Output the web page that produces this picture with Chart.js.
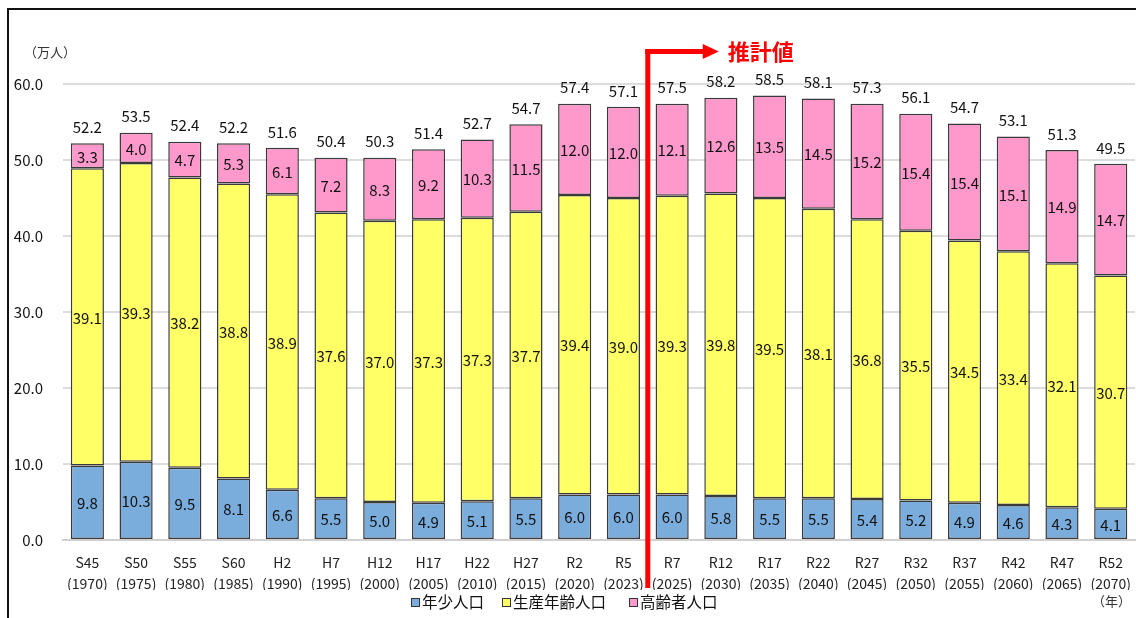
<!DOCTYPE html>
<html>
<head>
<meta charset="utf-8">
<script src="https://cdn.jsdelivr.net/npm/chart.js@4"></script>
<style>
  body { margin: 0; background: #fff; }
  #wrap { position: relative; width: 1136px; height: 618px; }
  #frame { position: absolute; left: 7px; top: 8px; right: 0; bottom: 0;
           border-top: 2px solid #111; border-left: 2px solid #111; pointer-events: none; }
  .note { position: absolute; font-family: "Noto Sans CJK JP"; font-size: 13px; color: #333; }
  .leg { position: absolute; top: 590px; font-family: "Noto Sans CJK JP"; font-size: 15.5px;
         color: #111; white-space: nowrap; line-height: 22px; }
  .leg i { display: inline-block; width: 7px; height: 7px; border: 1px solid #333;
           margin-right: 2px; vertical-align: 1px; }
</style>
</head>
<body>
<div id="wrap">
  <canvas id="pop" width="1136" height="618"></canvas>
  <div id="frame"></div>
  <div class="note" style="left:24px; top:42px;">（万人）</div>
  <div class="note" style="left:1092px; top:591px;">（年）</div>
  <div id="legend"></div>
</div>
<script>
const years = [
  ['S45', '(1970)'], ['S50', '(1975)'], ['S55', '(1980)'], ['S60', '(1985)'],
  ['H2', '(1990)'], ['H7', '(1995)'], ['H12', '(2000)'], ['H17', '(2005)'],
  ['H22', '(2010)'], ['H27', '(2015)'], ['R2', '(2020)'], ['R5', '(2023)'],
  ['R7', '(2025)'], ['R12', '(2030)'], ['R17', '(2035)'], ['R22', '(2040)'],
  ['R27', '(2045)'], ['R32', '(2050)'], ['R37', '(2055)'], ['R42', '(2060)'],
  ['R47', '(2065)'], ['R52', '(2070)']
];
const young = [9.8, 10.3, 9.5, 8.1, 6.6, 5.5, 5.0, 4.9, 5.1, 5.5, 6.0, 6.0,
               6.0, 5.8, 5.5, 5.5, 5.4, 5.2, 4.9, 4.6, 4.3, 4.1];
const working = [39.1, 39.3, 38.2, 38.8, 38.9, 37.6, 37.0, 37.3, 37.3, 37.7, 39.4, 39.0,
                 39.3, 39.8, 39.5, 38.1, 36.8, 35.5, 34.5, 33.4, 32.1, 30.7];
const elderly = [3.3, 4.0, 4.7, 5.3, 6.1, 7.2, 8.3, 9.2, 10.3, 11.5, 12.0, 12.0,
                 12.1, 12.6, 13.5, 14.5, 15.2, 15.4, 15.4, 15.1, 14.9, 14.7];
const totals = [52.2, 53.5, 52.4, 52.2, 51.6, 50.4, 50.3, 51.4, 52.7, 54.7, 57.4, 57.1,
                57.5, 58.2, 58.5, 58.1, 57.3, 56.1, 54.7, 53.1, 51.3, 49.5];
const seriesNames = ['年少人口', '生産年齢人口', '高齢者人口'];
const seriesColors = ['#7aacdc', '#ffff66', '#ff99cc'];
const lastActual = 11; // R5 (2023), estimates start after it

const font = '"Noto Sans CJK JP"';

// numbers inside each segment and totals on top
const segLabels = {
  id: 'segLabels',
  afterDatasetsDraw(chart) {
    const ctx = chart.ctx;
    ctx.save();
    ctx.font = '15px ' + font;
    ctx.fillStyle = '#111';
    ctx.textAlign = 'center';
    ctx.textBaseline = 'middle';
    chart.data.datasets.forEach((ds, i) => {
      chart.getDatasetMeta(i).data.forEach((bar, j) => {
        ctx.fillText(ds.data[j].toFixed(1), bar.x, (bar.y + bar.base) / 2 + 1);
      });
    });
    chart.getDatasetMeta(2).data.forEach((bar, j) => {
      ctx.fillText(totals[j].toFixed(1), bar.x, bar.y - 16);
    });
    ctx.restore();
  }
};

// red "推計値" arrow between actual and estimated values
const estArrow = {
  id: 'estArrow',
  afterDraw(chart) {
    const ctx = chart.ctx;
    const x = chart.scales.x;
    const xp = (x.getPixelForValue(lastActual) + x.getPixelForValue(lastActual + 1)) / 2;
    const yTop = 49;
    ctx.save();
    ctx.fillStyle = '#ff0000';
    ctx.fillRect(xp - 2.5, yTop, 5, 588 - yTop);
    ctx.fillRect(xp - 2.5, yTop, 58, 5);
    ctx.beginPath();
    ctx.moveTo(xp + 55, yTop - 5);
    ctx.lineTo(xp + 71, yTop + 2.5);
    ctx.lineTo(xp + 55, yTop + 10);
    ctx.closePath();
    ctx.fill();
    ctx.font = 'bold 22px ' + font;
    ctx.textBaseline = 'middle';
    ctx.fillText('推計値', xp + 80, yTop + 3);
    ctx.restore();
  }
};

const bar = (i, data) => ({
  label: seriesNames[i],
  data: data,
  backgroundColor: seriesColors[i],
  borderColor: '#3a3a3a',
  borderWidth: 1.5,
  borderSkipped: false,
  barPercentage: 0.68,
  categoryPercentage: 1
});

new Chart(document.getElementById('pop'), {
  type: 'bar',
  data: {
    labels: years,
    datasets: [bar(0, young), bar(1, working), bar(2, elderly)]
  },
  options: {
    responsive: false,
    animation: false,
    layout: { padding: { top: 84, right: 0, left: 0, bottom: 28 } },
    plugins: {
      tooltip: { enabled: false },
      legend: { display: false }
    },
    scales: {
      x: {
        stacked: true,
        grid: { display: false },
        border: { color: '#d0d0d0', width: 2 },
        ticks: {
          autoSkip: false,
          maxRotation: 0,
          color: '#222',
          padding: 5,
          font: { family: font, size: 14, lineHeight: 1.45 }
        },
        afterFit: s => { s.height = 50; }
      },
      y: {
        stacked: true,
        min: 0,
        max: 60,
        grid: { color: '#dcdcdc', lineWidth: 2, drawTicks: false },
        border: { display: false },
        ticks: {
          stepSize: 10,
          padding: 20,
          color: '#111',
          font: { family: font, size: 15 },
          callback: v => v.toFixed(1)
        },
        afterFit: s => { s.width = 63; }
      }
    }
  },
  plugins: [segLabels, estArrow]
});

// legend below the axis, as text
const legendLeft = [411, 502, 629];
document.getElementById('legend').innerHTML = seriesNames.map((n, i) =>
  '<div class="leg" style="left:' + legendLeft[i] + 'px"><i style="background:' +
  seriesColors[i] + '"></i>' + n + '</div>').join('');
</script>
</body>
</html>
